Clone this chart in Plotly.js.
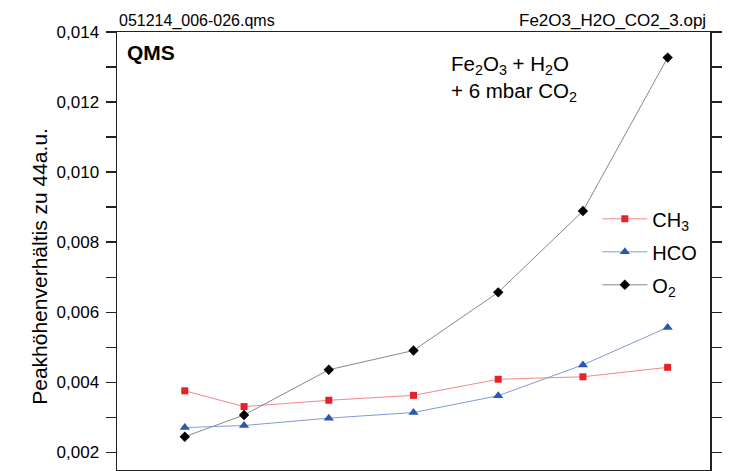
<!DOCTYPE html>
<html>
<head>
<meta charset="utf-8">
<script src="https://cdn.plot.ly/plotly-3.0.1.min.js"></script>
<style>html,body{margin:0;padding:0;background:#fff;}#chart{width:730px;height:471px;}</style>
</head>
<body>
<div id="chart"></div>
<script>
// x positions of the measurements (axis itself is cropped away in the reference)
const xValues = [65, 100, 150, 200, 250, 300, 350];
const seriesNames = ["CH<sub>3</sub>", "HCO", "O<sub>2</sub>"];
const ch3 = [0.00376, 0.00331, 0.00349, 0.00363, 0.00409, 0.00416, 0.00443];
const hco = [0.00271, 0.00277, 0.00298, 0.00314, 0.00362, 0.00450, 0.00557];
const o2  = [0.00245, 0.00307, 0.00436, 0.00491, 0.00657, 0.00889, 0.01327];
const yTickVals = [0.002, 0.004, 0.006, 0.008, 0.010, 0.012, 0.014];
const yTickText = ["0,002", "0,004", "0,006", "0,008", "0,010", "0,012", "0,014"];
const yMinorVals = [0.003, 0.005, 0.007, 0.009, 0.011, 0.013];

const font = "Liberation Sans, Arial, sans-serif";
const traces = [
  {x: xValues, y: ch3, name: seriesNames[0], legendgroup: "g1", mode: "lines+markers",
   line: {color: "#f08a8a", width: 1}, marker: {symbol: "square", size: 7, color: "#e8202a"}},
  {x: xValues, y: hco, name: seriesNames[1], legendgroup: "g2", mode: "lines+markers",
   line: {color: "#7f9bd6", width: 1}, marker: {symbol: "triangle-up", size: 9, color: "#2a58b0"}},
  {x: xValues, y: o2, name: seriesNames[2], legendgroup: "g3", mode: "lines+markers",
   line: {color: "#888888", width: 1}, marker: {symbol: "diamond", size: 8, color: "#000000"}}
];

const layout = {
  width: 730, height: 471,
  margin: {l: 117, r: 20, t: 32, b: 1, pad: 0},
  paper_bgcolor: "#fff", plot_bgcolor: "#fff",
  font: {family: font, color: "#000"},
  showlegend: true,
  legend: {x: 0.81, y: 0.618, xanchor: "left", yanchor: "top", font: {size: 20, family: font},
           bgcolor: "rgba(0,0,0,0)", tracegroupgap: 4, itemwidth: 45},
  xaxis: {range: [25, 375], showline: true, linecolor: "#222", linewidth: 1.5, mirror: true,
          showgrid: false, zeroline: false, ticks: "", showticklabels: false, fixedrange: true},
  yaxis: {range: [0.0015, 0.014], showline: true, linecolor: "#222", linewidth: 1.5, mirror: "ticks",
          showgrid: false, zeroline: false, ticks: "outside", ticklen: 10, tickwidth: 1.5, tickcolor: "#222",
          tickmode: "array", tickvals: yTickVals, ticktext: yTickText, ticklabelstandoff: 3,
          minor: {tickvals: yMinorVals, ticks: "outside", ticklen: 10, tickwidth: 1.5, tickcolor: "#222"},
          tickfont: {size: 17, family: font, color: "#000"}},
  annotations: [
    {xref: "paper", yref: "paper", x: -0.13, y: 0.466, xanchor: "center", yanchor: "middle", textangle: -90,
     text: "Peakhöhenverhältis zu 44a.u.", showarrow: false, font: {size: 21, family: font}},
    {xref: "paper", yref: "paper", x: 0, y: 1, xanchor: "left", yanchor: "bottom", yshift: 0,
     text: "051214_006-026.qms", showarrow: false, font: {size: 16, family: font}},
    {xref: "paper", yref: "paper", x: 1, y: 1, xanchor: "right", yanchor: "bottom", yshift: 0, xshift: -2,
     text: "Fe2O3_H2O_CO2_3.opj", showarrow: false, font: {size: 17, family: font}},
    {xref: "paper", yref: "paper", x: 0.013, y: 0.985, xanchor: "left", yanchor: "top",
     text: "<b>QMS</b>", showarrow: false, font: {size: 21, family: font}},
    {xref: "paper", yref: "paper", x: 0.56, y: 0.96, xanchor: "left", yanchor: "top", align: "left",
     text: "Fe<sub>2</sub>O<sub>3</sub> + H<sub>2</sub>O<br>+ 6 mbar CO<sub>2</sub>", showarrow: false,
     font: {size: 20.5, family: font}}
  ]
};

Plotly.newPlot("chart", traces, layout, {displayModeBar: false, staticPlot: true});
</script>
</body>
</html>
